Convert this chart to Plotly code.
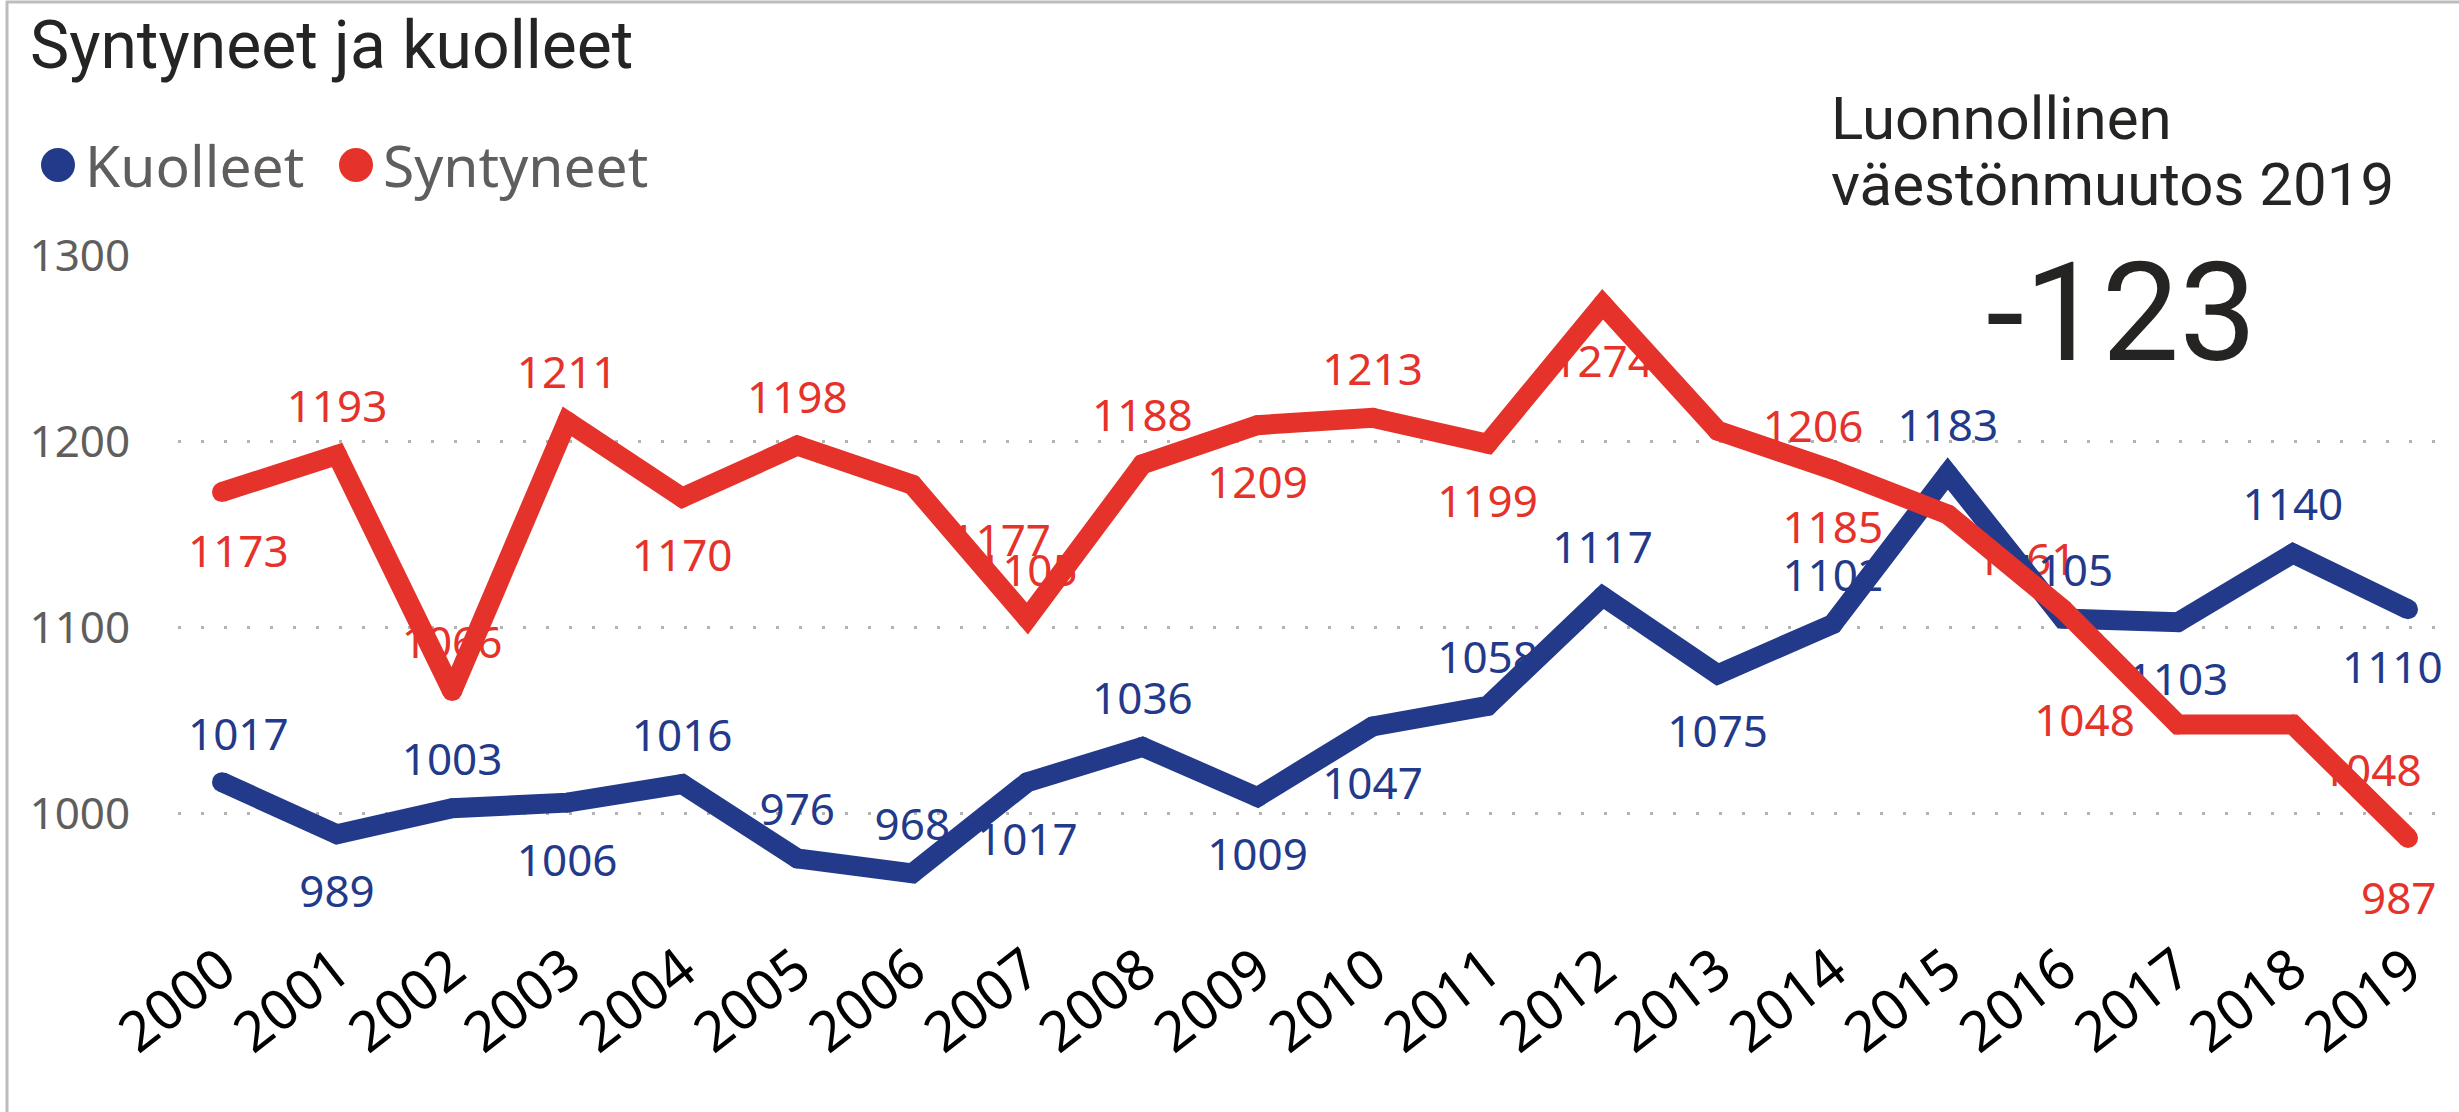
import plotly.graph_objects as go

# ---------------- data ----------------
years = list(range(2000, 2020))
year_labels = [str(y) for y in years]
kuolleet = [1017, 989, 1003, 1006, 1016, 976, 968, 1017, 1036, 1009,
            1047, 1058, 1117, 1075, 1102, 1183, 1105, 1103, 1140, 1110]
syntyneet = [1173, 1193, 1066, 1211, 1170, 1198, 1177, 1105, 1188, 1209,
             1213, 1199, 1274, 1206, 1185, 1161, 1110, 1048, 1048, 987]
y_ticks = [1000, 1100, 1200, 1300]
series_names = ["Kuolleet", "Syntyneet"]
chart_title = "Syntyneet ja kuolleet"
card_line1 = "Luonnollinen"
card_line2 = "väestönmuutos 2019"
natural_change = syntyneet[-1] - kuolleet[-1]

# ---------------- style ----------------
BLUE = "#233A8B"
RED = "#E5322A"
GREY_TXT = "#605E5C"
DARK_TXT = "#252423"
GRID = "#B4B4B4"
LABEL_FONT = "Noto Sans"
TITLE_FONT = "Roboto"

W, H = 2459, 1112
L, RM, T, BM = 178, 19, 255, 187
PW, PH = W - L - RM, H - T - BM

def fx(px):
    return (px - L) / PW

def fy(py):
    return (H - BM - py) / PH

# label placement per point (Power BI style positions)
pos_k = ["edge", "bottom center", "top center", "bottom center", "top center",
         "top center", "top center", "bottom center", "top center", "bottom center",
         "bottom center", "top center", "top center", "bottom center", "top center",
         "top center", "top center", "bottom center", "top center", "edge"]
pos_s = ["edge", "top center", "top center", "top center", "bottom center",
         "top center", "bottom right", "top center", "top center", "bottom center",
         "top center", "bottom center", "bottom center", "middle right", "bottom center",
         "bottom right", "hidden", "middle left", "bottom right", "edge"]
OFFSET = {"top center": 22, "bottom center": 40, "bottom right": 38,
          "middle right": 45, "middle left": 43}
OFFSET_OVERRIDE_S = {15: 28, 18: 28}
# edge labels are nudged inwards like Power BI does: (index, xshift, yshift)
EDGE_K = {0: (16, 49), 19: (-16, -57)}
EDGE_S = {0: (16, -58), 19: (-9, -59)}

def label_arrays(values, positions, overrides=None):
    overrides = overrides or {}
    texts, tpos, sizes = [], [], []
    for i, (v, p) in enumerate(zip(values, positions)):
        if p in ("edge", "hidden"):
            texts.append("")
            tpos.append("top center")
            sizes.append(1)
        else:
            r = overrides.get(i, OFFSET[p])
            texts.append(str(v))
            tpos.append(p)
            sizes.append((r - 1) * 0.8 * 2)
    return texts, tpos, sizes

LINE_W = 20

fig = go.Figure()

# labels first so the lines are drawn over them
for vals, pos, col, ov in [(syntyneet, pos_s, RED, OFFSET_OVERRIDE_S),
                           (kuolleet, pos_k, BLUE, None)]:
    texts, tpos, sizes = label_arrays(vals, pos, ov)
    fig.add_trace(go.Scatter(
        x=years, y=vals, mode="markers+text", text=texts, textposition=tpos,
        textfont=dict(family=LABEL_FONT, size=44, color=col),
        marker=dict(size=sizes, opacity=0),
        hoverinfo="skip", showlegend=False, cliponaxis=False))

fig.add_trace(go.Scatter(
    x=years, y=kuolleet, mode="lines+markers", name=series_names[0],
    line=dict(color=BLUE, width=LINE_W),
    marker=dict(color=BLUE, size=LINE_W),
    showlegend=False, cliponaxis=False))
fig.add_trace(go.Scatter(
    x=years, y=syntyneet, mode="lines+markers", name=series_names[1],
    line=dict(color=RED, width=LINE_W),
    marker=dict(color=RED, size=LINE_W),
    showlegend=False, cliponaxis=False))

x0 = years[0] - 44 / 115.05
x1 = years[-1] + 32 / 115.05

fig.update_xaxes(
    range=[x0, x1], tickmode="array", tickvals=years, ticktext=year_labels,
    tickangle=-38, tickfont=dict(family=LABEL_FONT, size=56, color="#000000"),
    showgrid=False, zeroline=False, showline=False, ticks="")
fig.update_yaxes(
    range=[940.2, 1300.5], tickmode="array", tickvals=y_ticks,
    tickfont=dict(family=LABEL_FONT, size=44, color=GREY_TXT),
    showgrid=True, gridcolor=GRID, gridwidth=3, griddash="3px,20px",
    zeroline=False, showline=False, ticks="outside", ticklen=38,
    tickcolor="rgba(0,0,0,0)")

annotations = [
    dict(text=chart_title, x=fx(28), y=fy(45), xanchor="left", yanchor="middle",
         font=dict(family=TITLE_FONT, size=66, color=DARK_TXT)),
    dict(text=series_names[0], x=fx(83), y=fy(165), xanchor="left", yanchor="middle",
         font=dict(family=LABEL_FONT, size=57, color=GREY_TXT)),
    dict(text=series_names[1], x=fx(381), y=fy(165), xanchor="left", yanchor="middle",
         font=dict(family=LABEL_FONT, size=57, color=GREY_TXT)),
    dict(text=card_line1, x=fx(1829), y=fy(119), xanchor="left", yanchor="middle",
         font=dict(family=TITLE_FONT, size=60, color=DARK_TXT)),
    dict(text=card_line2, x=fx(1829), y=fy(185), xanchor="left", yanchor="middle",
         font=dict(family=TITLE_FONT, size=60, color=DARK_TXT)),
    dict(text=str(natural_change), x=fx(2121), y=fy(313), xanchor="center", yanchor="middle",
         font=dict(family=TITLE_FONT, size=138, color=DARK_TXT)),
]
for a in annotations:
    a.update(xref="paper", yref="paper", showarrow=False)

for vals, edges, col in [(kuolleet, EDGE_K, BLUE), (syntyneet, EDGE_S, RED)]:
    for i, (xs, ys) in edges.items():
        annotations.append(dict(
            x=years[i], y=vals[i], xref="x", yref="y", text=str(vals[i]),
            showarrow=False, xshift=xs, yshift=ys, xanchor="center", yanchor="middle",
            font=dict(family=LABEL_FONT, size=44, color=col)))

shapes = [
    dict(type="circle", xref="paper", yref="paper", x0=fx(41), x1=fx(75),
         y0=fy(182), y1=fy(148), fillcolor=BLUE, line=dict(width=0)),
    dict(type="circle", xref="paper", yref="paper", x0=fx(339), x1=fx(373),
         y0=fy(182), y1=fy(148), fillcolor=RED, line=dict(width=0)),
    dict(type="line", xref="paper", yref="paper", x0=fx(7), x1=fx(7),
         y0=fy(1), y1=fy(1120), line=dict(color="#BDBDBD", width=3)),
    dict(type="line", xref="paper", yref="paper", x0=fx(6), x1=fx(2470),
         y0=fy(2), y1=fy(2), line=dict(color="#BDBDBD", width=3)),
]

fig.update_layout(
    width=W, height=H,
    margin=dict(l=L, r=RM, t=T, b=BM, autoexpand=False),
    paper_bgcolor="white", plot_bgcolor="white",
    showlegend=False, annotations=annotations, shapes=shapes,
    hovermode=False)

fig.write_html("out.html",
               config={"displayModeBar": False},
               post_script="document.body.style.margin='0';document.body.style.overflow='hidden';")
